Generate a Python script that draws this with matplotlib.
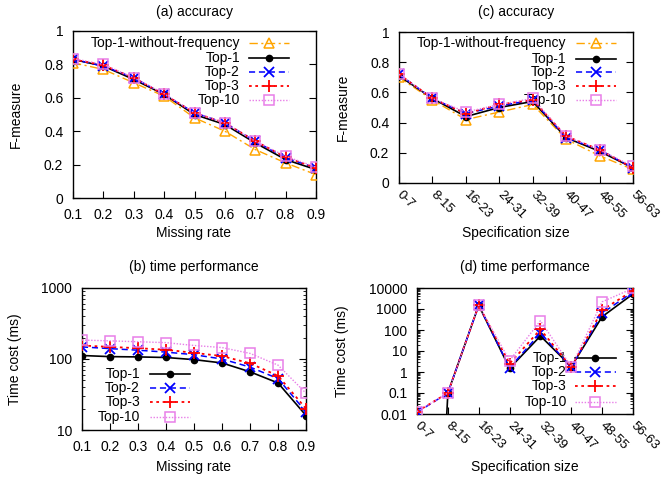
import numpy as np
import matplotlib
matplotlib.use("Agg")
import matplotlib.pyplot as plt
from matplotlib.ticker import FixedLocator, LogLocator, NullFormatter, FuncFormatter

plt.rcParams["font.family"] = ["Liberation Sans", "DejaVu Sans"]
plt.rcParams["font.size"] = 10

W, H = 661, 479

# missing-rate experiments
missing_rate = [0.1, 0.2, 0.3, 0.4, 0.5, 0.6, 0.7, 0.8, 0.9]
acc_rate_wf = [0.81, 0.77, 0.69, 0.61, 0.48, 0.40, 0.29, 0.21, 0.14]
acc_rate_top1 = [0.83, 0.79, 0.71, 0.62, 0.50, 0.44, 0.33, 0.23, 0.17]
acc_rate_top2 = [0.83, 0.79, 0.72, 0.62, 0.51, 0.45, 0.34, 0.24, 0.18]
acc_rate_top3 = [0.83, 0.795, 0.72, 0.62, 0.51, 0.45, 0.34, 0.245, 0.18]
acc_rate_top10 = [0.835, 0.80, 0.72, 0.625, 0.51, 0.45, 0.34, 0.25, 0.185]

time_rate_top1 = [112, 108, 107, 105, 98, 88, 66, 46, 16]
time_rate_top2 = [148, 140, 133, 125, 115, 100, 77, 53, 18]
time_rate_top3 = [155, 148, 142, 135, 122, 110, 87, 58, 20]
time_rate_top10 = [185, 180, 175, 170, 155, 145, 120, 82, 33]

# specification-size experiments
spec_sizes = ["0-7", "8-15", "16-23", "24-31", "32-39", "40-47", "48-55", "56-63"]
acc_size_wf = [0.70, 0.55, 0.42, 0.47, 0.52, 0.29, 0.18, 0.09]
acc_size_top1 = [0.71, 0.56, 0.44, 0.50, 0.54, 0.30, 0.21, 0.10]
acc_size_top2 = [0.72, 0.56, 0.46, 0.51, 0.55, 0.30, 0.22, 0.10]
acc_size_top3 = [0.72, 0.56, 0.46, 0.52, 0.55, 0.31, 0.22, 0.10]
acc_size_top10 = [0.72, 0.56, 0.47, 0.52, 0.56, 0.31, 0.22, 0.11]

time_size_top1 = [1e-30, 0.1, 1500, 1.5, 52, 1.8, 430, 5200]
time_size_top2 = [0.012, 0.1, 1500, 1.6, 72, 1.7, 630, 6500]
time_size_top3 = [0.013, 0.1, 1500, 2.5, 107, 1.7, 900, 7500]
time_size_top10 = [0.013, 0.1, 1500, 3.5, 277, 1.8, 2200, 9600]

STYLES = {
    "Top-1-without-frequency": dict(color="#ffa500", ls=(0, (6, 2.5, 1.5, 2.5)), lw=1.0,
                                    marker="^", ms=7, mfc="none", mew=1.1),
    "Top-1": dict(color="black", ls="-", lw=1.2, marker="o", ms=4.5, mew=1.0),
    "Top-2": dict(color="#0000ff", ls=(0, (4, 2.5)), lw=1.1, marker="x", ms=6.5, mew=1.3),
    "Top-3": dict(color="#ff0000", ls=(0, (1.5, 2.0)), lw=1.3, marker="+", ms=8, mew=1.3),
    "Top-10": dict(color="#e87ee8", ls=(0, (1, 1.2)), lw=1.0, marker="s", ms=7, mfc="none", mew=1.1),
}


def px_axes(left, top, right, bottom):
    return [left / W, (H - bottom) / H, (right - left) / W, (bottom - top) / H]


def fig_text(fig, x, y, s, **kw):
    fig.text(x / W, (H - y) / H, s, ha="center", va="center", **kw)


def draw_key(ax, names, x_text, x0, x1, rows):
    # gnuplot-style key: right-justified label followed by a sample line
    for name, y in zip(names, rows):
        st = STYLES[name]
        ax.text(x_text, y, name, transform=ax.transAxes, ha="right", va="center", zorder=1)
        ax.plot([x0, x1], [y, y], transform=ax.transAxes, color=st["color"], ls=st["ls"],
                lw=st["lw"], clip_on=False, zorder=1)
        ax.plot([(x0 + x1) / 2], [y], transform=ax.transAxes, color=st["color"], ls="none",
                marker=st["marker"], ms=st["ms"], mfc=st.get("mfc", st["color"]),
                mew=st["mew"], clip_on=False, zorder=1)


def style_axes(ax):
    ax.tick_params(which="both", direction="in", top=False, right=True, labelsize=10, pad=7)
    ax.tick_params(which="major", length=5, width=0.8)
    ax.tick_params(which="minor", length=2.5, width=0.6)
    for sp in ax.spines.values():
        sp.set_linewidth(1.0)


def plot_series(ax, x, series):
    for name, y in series:
        st = STYLES[name]
        ax.plot(x, y, color=st["color"], ls=st["ls"], lw=st["lw"], marker=st["marker"],
                ms=st["ms"], mfc=st.get("mfc", st["color"]), mew=st["mew"], zorder=3,
                clip_on=True)


def rotate_ticks(ax):
    ax.set_xticks(range(len(spec_sizes)))
    ax.set_xticklabels(spec_sizes, rotation=-45, ha="left", va="center",
                       rotation_mode="anchor", fontsize=9.5)
    ax.tick_params(axis="x", pad=7)


fig = plt.figure(figsize=(W / 100, H / 100), dpi=100)

# (a) accuracy vs missing rate
ax_a = fig.add_axes(px_axes(73, 31, 316, 198))
plot_series(ax_a, missing_rate, [
    ("Top-1-without-frequency", acc_rate_wf), ("Top-1", acc_rate_top1),
    ("Top-2", acc_rate_top2), ("Top-3", acc_rate_top3), ("Top-10", acc_rate_top10)])
ax_a.set_xlim(0.1, 0.9)
ax_a.set_ylim(0, 1)
ax_a.set_xticks(missing_rate)
ax_a.set_yticks([0, 0.2, 0.4, 0.6, 0.8, 1])
ax_a.yaxis.set_major_formatter(FuncFormatter(lambda v, p: f"{v:g}"))
style_axes(ax_a)
draw_key(ax_a, list(STYLES), 0.687, 0.724, 0.889, [0.926, 0.837, 0.757, 0.671, 0.587])

# (c) accuracy vs specification size
ax_c = fig.add_axes(px_axes(399, 32, 633, 183))
xs = np.arange(len(spec_sizes))
plot_series(ax_c, xs, [
    ("Top-1-without-frequency", acc_size_wf), ("Top-1", acc_size_top1),
    ("Top-2", acc_size_top2), ("Top-3", acc_size_top3), ("Top-10", acc_size_top10)])
ax_c.set_xlim(0, len(spec_sizes) - 1)
ax_c.set_ylim(0, 1)
ax_c.set_yticks([0, 0.2, 0.4, 0.6, 0.8, 1])
ax_c.yaxis.set_major_formatter(FuncFormatter(lambda v, p: f"{v:g}"))
style_axes(ax_c)
rotate_ticks(ax_c)
draw_key(ax_c, list(STYLES), 0.714, 0.756, 0.927, [0.927, 0.821, 0.735, 0.642, 0.550])

# (b) time vs missing rate
ax_b = fig.add_axes(px_axes(82, 288, 306, 430))
plot_series(ax_b, missing_rate, [
    ("Top-1", time_rate_top1), ("Top-2", time_rate_top2),
    ("Top-3", time_rate_top3), ("Top-10", time_rate_top10)])
ax_b.set_yscale("log")
ax_b.set_xlim(0.1, 0.9)
ax_b.set_ylim(10, 1000)
ax_b.set_xticks(missing_rate)
ax_b.yaxis.set_major_locator(FixedLocator([10, 100, 1000]))
ax_b.yaxis.set_minor_locator(LogLocator(subs=np.arange(2, 10), numticks=100))
ax_b.yaxis.set_major_formatter(FuncFormatter(lambda v, p: f"{v:g}"))
ax_b.yaxis.set_minor_formatter(NullFormatter())
style_axes(ax_b)
draw_key(ax_b, ["Top-1", "Top-2", "Top-3", "Top-10"], 0.259, 0.304, 0.482,
         [0.394, 0.296, 0.197, 0.092])

# (d) time vs specification size
ax_d = fig.add_axes(px_axes(417, 288, 633, 414))
plot_series(ax_d, xs, [
    ("Top-1", time_size_top1), ("Top-2", time_size_top2),
    ("Top-3", time_size_top3), ("Top-10", time_size_top10)])
ax_d.set_yscale("log")
ax_d.set_xlim(0, len(spec_sizes) - 1)
ax_d.set_ylim(0.01, 10000)
ax_d.yaxis.set_major_locator(FixedLocator([0.01, 0.1, 1, 10, 100, 1000, 10000]))
ax_d.yaxis.set_minor_locator(LogLocator(subs=np.arange(2, 10), numticks=100))
ax_d.yaxis.set_major_formatter(FuncFormatter(lambda v, p: f"{v:g}"))
ax_d.yaxis.set_minor_formatter(NullFormatter())
style_axes(ax_d)
rotate_ticks(ax_d)
draw_key(ax_d, ["Top-1", "Top-2", "Top-3", "Top-10"], 0.694, 0.731, 0.921,
         [0.444, 0.333, 0.222, 0.095])

# titles and axis labels
fig_text(fig, 194, 12, "(a) accuracy")
fig_text(fig, 516, 12, "(c) accuracy")
fig_text(fig, 194, 267, "(b) time performance")
fig_text(fig, 525, 267, "(d) time performance")

fig_text(fig, 194, 233, "Missing rate")
fig_text(fig, 516, 233, "Specification size")
fig_text(fig, 194, 467, "Missing rate")
fig_text(fig, 525, 467, "Specification size")

fig_text(fig, 16, 114, "F-measure", rotation=90)
fig_text(fig, 343, 107, "F-measure", rotation=90)
fig_text(fig, 15, 359, "Time cost (ms)", rotation=90)
fig_text(fig, 342, 351, "Time cost (ms)", rotation=90)

fig.savefig("out.png", dpi=100)
